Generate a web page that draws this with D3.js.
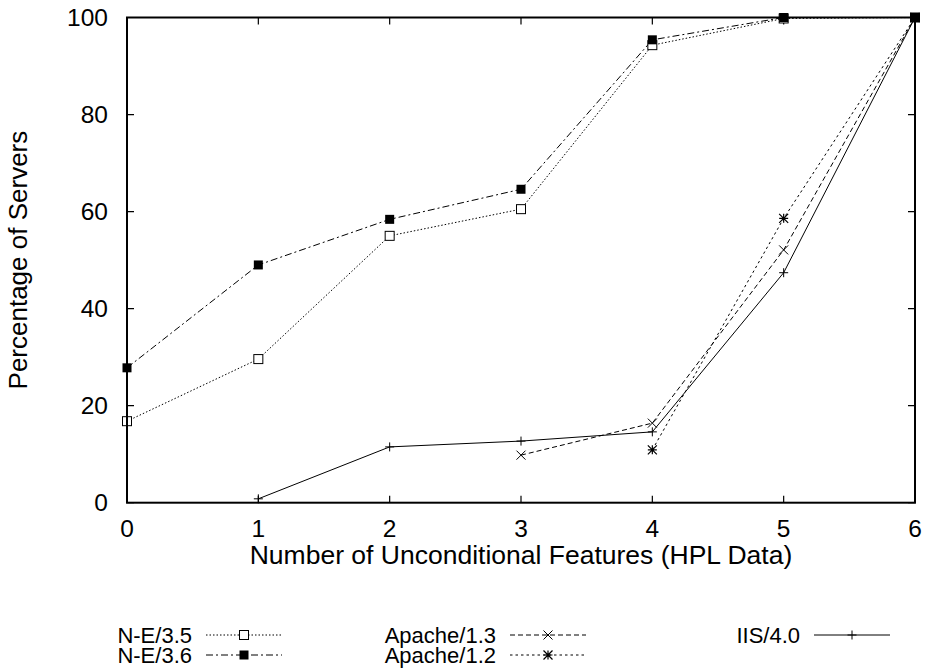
<!DOCTYPE html>
<html>
<head>
<meta charset="utf-8">
<script src="https://d3js.org/d3.v7.min.js"></script>
<style>
    body { margin: 0; background: #fff; }
    svg text { font-family: "Liberation Sans", Arial, Helvetica, sans-serif; fill: #000; }
</style>
</head>
<body>
<svg id="chart" width="925" height="668"></svg>
<script>
// feature counts on the x axis
const features = [0, 1, 2, 3, 4, 5, 6];
const yTicks = [0, 20, 40, 60, 80, 100];

// percentage of servers per series (null = no point)
const ne35     = [16.8, 29.6, 55.0, 60.5, 94.3, 99.8, 100];
const ne36     = [27.8, 49.0, 58.4, 64.6, 95.4, 100, 100];
const apache13 = [null, null, null, 9.8, 16.4, 52.1, 100];
const apache12 = [null, null, null, null, 10.9, 58.6, 100];
const iis40    = [null, 0.8, 11.5, 12.7, 14.6, 47.4, 100];

const seriesNames = ["N-E/3.5", "N-E/3.6", "Apache/1.3", "Apache/1.2", "IIS/4.0"];

var series = [
    {name: seriesNames[0], values: ne35,     dash: "1.5,2",   marker: "openSquare"},
    {name: seriesNames[1], values: ne36,     dash: "7,3,2,3", marker: "filledSquare"},
    {name: seriesNames[2], values: apache13, dash: "5,3",     marker: "cross"},
    {name: seriesNames[3], values: apache12, dash: "2.5,3",   marker: "star"},
    {name: seriesNames[4], values: iis40,    dash: null,      marker: "plus"}
];

var pLeft = 127, pRight = 915, pTop = 17.5, pBottom = 502.7;
var svg = d3.select("#chart");

var x = d3.scaleLinear().domain([0, 6]).range([pLeft, pRight]);
var y = d3.scaleLinear().domain([0, 100]).range([pBottom, pTop]);

// ticks (inside, mirrored)
var tickLen = 7;
var g = svg.append("g");
g.selectAll(".ytick").data(yTicks).enter().append("path")
    .attr("d", d => "M" + pLeft + "," + y(d) + "h" + tickLen + "M" + pRight + "," + y(d) + "h" + (-tickLen))
    .attr("stroke", "#000").attr("stroke-width", 1.2);
g.selectAll(".xtick").data(features).enter().append("path")
    .attr("d", d => "M" + x(d) + "," + pBottom + "v" + (-tickLen) + "M" + x(d) + "," + pTop + "v" + tickLen)
    .attr("stroke", "#000").attr("stroke-width", 1.2);

// tick labels
g.selectAll(".ylab").data(yTicks).enter().append("text")
    .attr("x", 108).attr("y", d => y(d) + 8.5)
    .attr("text-anchor", "end")
    .style("font-size", "24.5px")
    .text(d => d);
g.selectAll(".xlab").data(features).enter().append("text")
    .attr("x", d => x(d)).attr("y", 537)
    .attr("text-anchor", "middle")
    .style("font-size", "24.5px")
    .text(d => d);

// axis titles
svg.append("text")
    .attr("x", (pLeft + pRight) / 2).attr("y", 564)
    .attr("text-anchor", "middle")
    .style("font-size", "26.5px")
    .text("Number of Unconditional Features (HPL Data)");
svg.append("text")
    .attr("transform", "translate(27," + ((pTop + pBottom) / 2) + ") rotate(-90)")
    .attr("text-anchor", "middle")
    .style("font-size", "26px")
    .text("Percentage of Servers");

function drawMarker(sel, type, px, py) {
    var s = 4.5;
    if (type == "openSquare") {
        sel.append("rect").attr("x", px - s).attr("y", py - s).attr("width", 2 * s).attr("height", 2 * s)
            .attr("fill", "#fff").attr("stroke", "#000").attr("stroke-width", 1);
    } else if (type == "filledSquare") {
        sel.append("rect").attr("x", px - s).attr("y", py - s).attr("width", 2 * s).attr("height", 2 * s)
            .attr("fill", "#000");
    } else if (type == "cross") {
        sel.append("path").attr("d", `M${px - s},${py - s}L${px + s},${py + s}M${px - s},${py + s}L${px + s},${py - s}`)
            .attr("stroke", "#000").attr("stroke-width", 1);
    } else if (type == "plus") {
        sel.append("path").attr("d", `M${px - s},${py}H${px + s}M${px},${py - s}V${py + s}`)
            .attr("stroke", "#000").attr("stroke-width", 1);
    } else if (type == "star") {
        sel.append("path").attr("d", `M${px - s},${py - s}L${px + s},${py + s}M${px - s},${py + s}L${px + s},${py - s}M${px - s},${py}H${px + s}M${px},${py - s}V${py + s}`)
            .attr("stroke", "#000").attr("stroke-width", 1.2);
    }
}

var line = d3.line()
    .defined(d => d.v != null)
    .x(d => x(d.f)).y(d => y(d.v));

var plot = svg.append("g");
series.forEach(function(s) {
    var pts = features.map((f, i) => ({f: f, v: s.values[i]}));
    plot.append("path")
        .datum(pts)
        .attr("d", line)
        .attr("fill", "none")
        .attr("stroke", "#000")
        .attr("stroke-width", 1)
        .attr("stroke-dasharray", s.dash);
});
series.forEach(function(s) {
    var mg = plot.append("g");
    features.forEach(function(f, i) {
        if (s.values[i] != null) drawMarker(mg, s.marker, x(f), y(s.values[i]));
    });
});

// frame
svg.append("rect")
    .attr("x", pLeft).attr("y", pTop).attr("width", pRight - pLeft).attr("height", pBottom - pTop)
    .attr("fill", "none").attr("stroke", "#000").attr("stroke-width", 2);

// legend: three equal columns, two rows
var colMarker = [244, 548, 852];
var rowY = [635, 655];
var sampleHalf = 38;
var legend = svg.append("g");
series.forEach(function(s, i) {
    var cx = colMarker[Math.floor(i / 2)];
    var cy = rowY[i % 2];
    legend.append("text")
        .attr("x", cx - sampleHalf - 14).attr("y", cy + 7.5)
        .attr("text-anchor", "end")
        .style("font-size", "22px")
        .text(s.name);
    legend.append("line")
        .attr("x1", cx - sampleHalf).attr("x2", cx + sampleHalf).attr("y1", cy).attr("y2", cy)
        .attr("stroke", "#000").attr("stroke-width", 1)
        .attr("stroke-dasharray", s.dash);
    drawMarker(legend, s.marker, cx, cy);
});
</script>
</body>
</html>
